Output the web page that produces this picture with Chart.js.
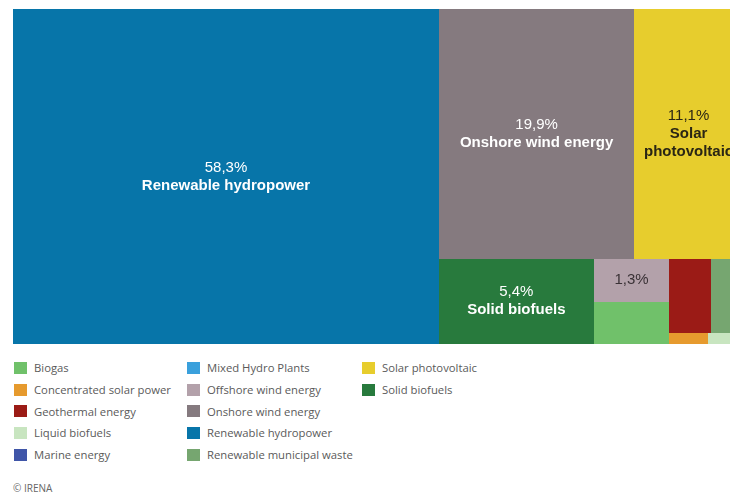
<!DOCTYPE html>
<html>
<head>
<meta charset="utf-8">
<script src="https://cdn.jsdelivr.net/npm/chart.js@4/dist/chart.umd.min.js"></script>
<style>
  html, body { margin: 0; padding: 0; background: #fff; width: 730px; height: 496px; overflow: hidden; }
  #treeBox { position: absolute; left: 13px; top: 9px; width: 730px; height: 335px; }
  #legend {
    position: absolute; left: 14px; top: 357px;
    display: grid; grid-auto-flow: column;
    grid-template-rows: repeat(5, 21.7px);
    grid-template-columns: 173px 175px 200px;
    font-family: "Open Sans", sans-serif; font-size: 11.3px; color: #5a5a5a;
  }
  .item { display: flex; align-items: center; white-space: nowrap; }
  .swatch { width: 13px; height: 12px; margin-right: 7px; flex: none; }
  #credit { position: absolute; left: 13px; top: 481px; font-family: "Open Sans", sans-serif; font-size: 10px; color: #666; }
</style>
</head>
<body>
<div id="treeBox"><canvas id="treeChart"></canvas></div>
<div id="legend"></div>
<div id="credit">© IRENA</div>
<script>
const categories = [
  "Biogas", "Concentrated solar power", "Geothermal energy", "Liquid biofuels",
  "Marine energy", "Mixed Hydro Plants", "Offshore wind energy", "Onshore wind energy",
  "Renewable hydropower", "Renewable municipal waste", "Solar photovoltaic", "Solid biofuels"
];
// share of the total, in %
const shares = [1.31, 0.17, 1.27, 0.12, 0.02, 0.01, 1.33, 19.9, 58.3, 0.98, 11.1, 5.4];
const colours = [
  "#70c16a", "#e69a2e", "#9b1b16", "#c8e5c0", "#3f55a8", "#3aa0dc",
  "#b3a1aa", "#857a7f", "#0775a9", "#76a670", "#e7cd2d", "#287a3d"
];
const textColours = [
  "#333", "#333", "#fff", "#333", "#fff", "#fff",
  "#3a3236", "#fff", "#fff", "#fff", "#2a2614", "#fff"
];

const SLACK = 1.4;      // how much worse a row may get before starting a new one
const LABELLED = 5;     // only the biggest tiles get a label
const LINE = 18;

function worstRatio(row, side) {
  const sum = row.reduce((s, d) => s + d.area, 0);
  const thick = sum / side;
  let worst = 0;
  row.forEach(d => {
    const len = d.area / thick;
    worst = Math.max(worst, len / thick, thick / len);
  });
  return worst;
}

function squarify(items, x, y, w, h) {
  const tiles = [];
  let i = 0;
  while (i < items.length) {
    const side = Math.min(w, h);
    const row = [items[i++]];
    let worst = worstRatio(row, side);
    while (i < items.length) {
      const next = worstRatio(row.concat(items[i]), side);
      if (next > worst * SLACK) break;
      row.push(items[i++]);
      worst = next;
    }
    const thick = row.reduce((s, d) => s + d.area, 0) / side;
    let off = 0;
    row.forEach(d => {
      const len = d.area / thick;
      if (w >= h) tiles.push({ ...d, x: x, y: y + off, w: thick, h: len });
      else tiles.push({ ...d, x: x + off, y: y, w: len, h: thick });
      off += len;
    });
    if (w >= h) { x += thick; w -= thick; } else { y += thick; h -= thick; }
  }
  return tiles;
}

function wrapWords(ctx, text, maxW) {
  const lines = [];
  let cur = "";
  text.split(" ").forEach(word => {
    const test = cur ? cur + " " + word : word;
    if (cur && ctx.measureText(test).width > maxW) {
      lines.push(cur);
      cur = word;
    } else {
      cur = test;
    }
  });
  if (cur) lines.push(cur);
  return lines;
}

const treemapTiles = {
  id: "treemapTiles",
  afterDraw(chart) {
    const { ctx, chartArea } = chart;
    const xs = chart.scales.x, ys = chart.scales.y;
    const W = chartArea.width, H = chartArea.height;
    const total = shares.reduce((a, b) => a + b, 0);
    const items = shares
      .map((v, i) => ({ i: i, v: v, area: v / total * W * H }))
      .filter(d => d.v > 0)
      .sort((a, b) => b.v - a.v);
    const tiles = squarify(items, 0, 0, W, H);

    ctx.save();
    tiles.forEach(t => {
      const x0 = Math.round(xs.getPixelForValue(t.x / W));
      const x1 = Math.round(xs.getPixelForValue((t.x + t.w) / W));
      const y0 = Math.round(ys.getPixelForValue(t.y / H));
      const y1 = Math.round(ys.getPixelForValue((t.y + t.h) / H));
      ctx.fillStyle = colours[t.i];
      ctx.fillRect(x0, y0, x1 - x0, y1 - y0);
    });

    ctx.textAlign = "center";
    ctx.textBaseline = "middle";
    tiles.slice(0, LABELLED).forEach(t => {
      const x0 = xs.getPixelForValue(t.x / W), x1 = xs.getPixelForValue((t.x + t.w) / W);
      const y0 = ys.getPixelForValue(t.y / H), y1 = ys.getPixelForValue((t.y + t.h) / H);
      const cw = x1 - x0, ch = y1 - y0;
      const pct = shares[t.i].toFixed(1).replace(".", ",") + "%";

      ctx.font = "bold 15px 'Liberation Sans', Arial, sans-serif";
      let names = wrapWords(ctx, categories[t.i], cw - 10);
      if ((names.length + 1) * LINE > ch - 6) names = [];

      const lines = [{ text: pct, bold: false }].concat(names.map(n => ({ text: n, bold: true })));
      const cx = (x0 + x1) / 2;
      let ly = (y0 + y1) / 2 - (lines.length - 1) * LINE / 2;
      ctx.fillStyle = textColours[t.i];
      lines.forEach(l => {
        ctx.font = (l.bold ? "bold " : "") + "15px 'Liberation Sans', Arial, sans-serif";
        ctx.fillText(l.text, cx, ly);
        ly += LINE;
      });
    });
    ctx.restore();
  }
};

new Chart(document.getElementById("treeChart"), {
  type: "scatter",
  data: { datasets: [{ data: [] }] },
  options: {
    responsive: true,
    maintainAspectRatio: false,
    animation: false,
    layout: { padding: 0 },
    scales: {
      x: { type: "linear", min: 0, max: 1, display: false },
      y: { type: "linear", min: 0, max: 1, reverse: true, display: false }
    },
    plugins: { legend: { display: false }, tooltip: { enabled: false } }
  },
  plugins: [treemapTiles]
});

// legend, filled column by column
const legend = document.getElementById("legend");
categories.forEach((name, i) => {
  const item = document.createElement("div");
  item.className = "item";
  item.innerHTML = '<span class="swatch" style="background:' + colours[i] + '"></span>' + name;
  legend.appendChild(item);
});
</script>
</body>
</html>
